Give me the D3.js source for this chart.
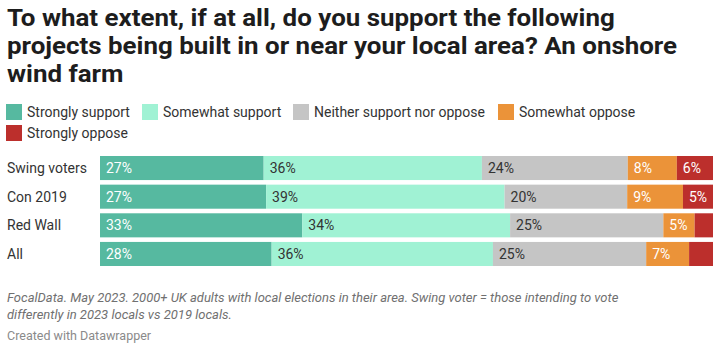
<!DOCTYPE html>
<html>
<head>
<meta charset="utf-8">
<script src="https://cdn.jsdelivr.net/npm/d3@7"></script>
<style>
  body { margin: 0; background: #fff; font-family: Roboto, sans-serif; }
</style>
</head>
<body>
<div id="chart"></div>
<script>
// Chart data
const groups = ["Swing voters", "Con 2019", "Red Wall", "All"];
const answers = ["Strongly support", "Somewhat support", "Neither support nor oppose", "Somewhat oppose", "Strongly oppose"];
const stronglySupport = [26.7, 27.1, 33.0, 28.0];
const somewhatSupport = [35.6, 38.9, 33.9, 36.1];
const neither = [23.8, 20.0, 25.0, 25.0];
const somewhatOppose = [8.0, 9.1, 5.1, 7.0];
const stronglyOppose = [5.9, 4.9, 3.0, 3.9];
const colors = ["#56b9a0", "#a0f2d4", "#c5c5c5", "#eb9339", "#bc2f2c"];
const labelColors = ["#fff", "#333", "#333", "#fff", "#fff"];

const title = [
  "To what extent, if at all, do you support the following",
  "projects being built in or near your local area? An onshore",
  "wind farm"
];
const notes = [
  "FocalData. May 2023. 2000+ UK adults with local elections in their area. Swing voter = those intending to vote",
  "differently in 2023 locals vs 2019 locals."
];

const w = 720, h = 353;
const marginLeft = 100, marginRight = 7;

const rows = groups.map((g, i) => ({
  group: g,
  [answers[0]]: stronglySupport[i],
  [answers[1]]: somewhatSupport[i],
  [answers[2]]: neither[i],
  [answers[3]]: somewhatOppose[i],
  [answers[4]]: stronglyOppose[i]
}));

const series = d3.stack().keys(answers)(rows);

const x = d3.scaleLinear().domain([0, 100]).range([marginLeft, w - marginRight]);
const y = d3.scaleBand().domain(groups).range([156, 266]).paddingInner(0.16).paddingOuter(0);
const color = d3.scaleOrdinal(answers, colors);

const svg = d3.select("#chart").append("svg")
  .attr("width", w)
  .attr("height", h)
  .attr("viewBox", [0, 0, w, h]);

// Title (headline in the original runs a little wider than plain Roboto Bold)
svg.append("g")
  .attr("transform", "translate(7,0) scale(1.08,1)")
  .selectAll("text")
  .data(title)
  .join("text")
  .attr("x", 0)
  .attr("y", (d, i) => 26.5 + i * 28)
  .attr("font-size", 24)
  .attr("font-weight", 700)
  .attr("fill", "#1d1d1d")
  .text(d => d);

// Legend
const legendPos = [[6, 104], [142, 104], [293, 104], [498, 104], [6, 125]];
const legend = svg.append("g")
  .selectAll("g")
  .data(answers)
  .join("g")
  .attr("transform", (d, i) => `translate(${legendPos[i][0]},${legendPos[i][1]})`);
legend.append("rect")
  .attr("width", 16)
  .attr("height", 16)
  .attr("fill", d => color(d));
legend.append("text")
  .attr("x", 21)
  .attr("y", 13)
  .attr("font-size", 14)
  .attr("fill", "#333")
  .text(d => d);

// Row labels
svg.append("g")
  .selectAll("text")
  .data(groups)
  .join("text")
  .attr("x", 7)
  .attr("y", d => y(d) + y.bandwidth() / 2 + 5)
  .attr("font-size", 14)
  .attr("fill", "#333")
  .text(d => d);

// Bars
const seg = svg.append("g")
  .selectAll("g")
  .data(series)
  .join("g")
  .selectAll("g")
  .data(s => s.map(d => Object.assign(d, { key: s.key, idx: s.index })))
  .join("g");

seg.append("rect")
  .attr("x", d => x(d[0]))
  .attr("y", d => y(d.data.group))
  .attr("width", d => x(d[1]) - x(d[0]))
  .attr("height", y.bandwidth())
  .attr("fill", d => color(d.key));

seg.append("text")
  .attr("x", d => x(d[0]) + 6)
  .attr("y", d => y(d.data.group) + y.bandwidth() / 2 + 5)
  .attr("font-size", 14)
  .attr("fill", d => labelColors[d.idx])
  .text(d => Math.round(d[1] - d[0]) + "%")
  .each(function (d) {
    const tw = this.getComputedTextLength();
    if (tw + 8 > x(d[1]) - x(d[0])) d3.select(this).remove();
  });

// Notes
svg.append("g")
  .selectAll("text")
  .data(notes)
  .join("text")
  .attr("x", 7)
  .attr("y", (d, i) => 302 + i * 17)
  .attr("font-size", 13)
  .attr("font-style", "italic")
  .attr("fill", "#707070")
  .text(d => d);

svg.append("text")
  .attr("x", 7)
  .attr("y", 340)
  .attr("font-size", 12.5)
  .attr("fill", "#8a8a8a")
  .text("Created with Datawrapper");
</script>
</body>
</html>
